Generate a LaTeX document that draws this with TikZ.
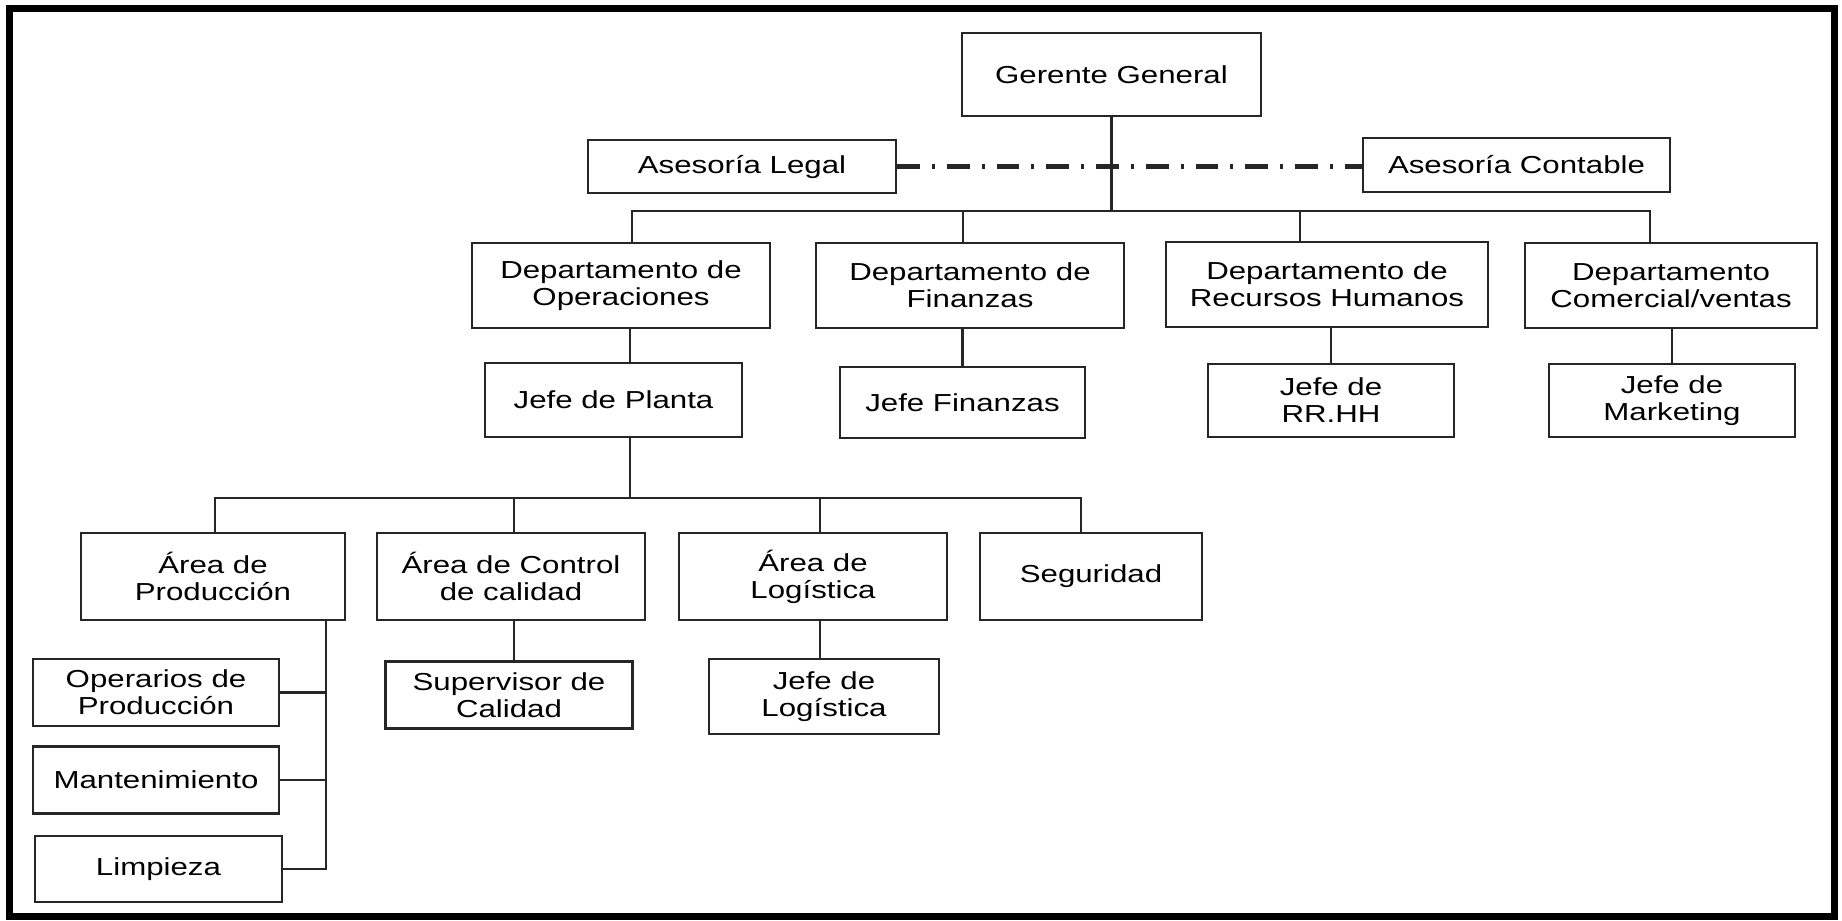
\documentclass[tikz,border=0pt]{standalone}
\usepackage{fontspec}
\setmainfont{Liberation Sans}[FakeStretch=1.27]
\usetikzlibrary{positioning}

\begin{document}
\begin{tikzpicture}[x=0.02cm, y=-0.02cm, line width=1.4pt, draw=black!85,
  cargo/.style={draw, align=center, inner sep=0pt, font=\fontsize{14pt}{15.3pt}\selectfont},
  asesor/.style={line width=2.4pt, dash pattern=on 13pt off 6.8pt on 1.7pt off 6.8pt}]
  \useasboundingbox (0,0) rectangle (1842,920);
  \draw[line width=4pt, draw=black] (9.5,8.5) rectangle (1834,916);

  \node[cargo, minimum width=5.98cm, minimum height=1.66cm] (gerente) at (1111.5,74.5) {Gerente General};
  \node[cargo, minimum width=6.16cm, minimum height=1.06cm] (legal) at (742,166.5) {Asesoría Legal};
  \node[cargo, minimum width=6.14cm, minimum height=1.08cm] (contable) at (1516.5,165) {Asesoría Contable};

  \node[cargo, minimum width=5.96cm, minimum height=1.7cm] (depOp) at (621,285.5) {Departamento de\\Operaciones};
  \node[cargo, minimum width=6.16cm, minimum height=1.7cm] (depFin) at (970,285.5) {Departamento de\\Finanzas};
  \node[cargo, minimum width=6.44cm, minimum height=1.7cm] (depRH) at (1327,284.5) {Departamento de\\Recursos Humanos};
  \node[cargo, minimum width=5.84cm, minimum height=1.7cm] (depCom) at (1671,285.5) {Departamento\\Comercial/ventas};

  \node[cargo, minimum width=5.14cm, minimum height=1.48cm] (jefePlanta) at (613.5,400) {Jefe de Planta};
  \node[cargo, minimum width=4.9cm, minimum height=1.42cm] (jefeFin) at (962.5,402.5) {Jefe Finanzas};
  \node[cargo, minimum width=4.92cm, minimum height=1.46cm] (jefeRH) at (1331,400.5) {Jefe de\\RR.HH};
  \node[cargo, minimum width=4.92cm, minimum height=1.46cm] (jefeMkt) at (1672,400.5) {Jefe de\\Marketing};

  \node[cargo, minimum width=5.28cm, minimum height=1.74cm] (areaProd) at (213,576.5) {Área de\\Producción};
  \node[cargo, minimum width=5.36cm, minimum height=1.74cm] (areaCal) at (511,576.5) {Área de Control\\de calidad};
  \node[cargo, minimum width=5.36cm, minimum height=1.74cm] (areaLog) at (813,576.5) {Área de\\Logística};
  \node[cargo, minimum width=4.44cm, minimum height=1.74cm] (seguridad) at (1091,576.5) {Seguridad};

  \node[cargo, minimum width=4.92cm, minimum height=1.34cm] (operarios) at (156,692.5) {Operarios de\\Producción};
  \node[cargo, minimum width=4.92cm, minimum height=1.34cm, below=0.36cm of operarios] (manten) {Mantenimiento};
  \node[cargo, minimum width=4.94cm, minimum height=1.32cm, below=0.4cm of manten, xshift=0.05cm] (limpieza) {Limpieza};
  \node[cargo, minimum width=4.94cm, minimum height=1.34cm, below=0.78cm of areaCal, xshift=-0.04cm] (supervisor) {Supervisor de\\Calidad};
  \node[cargo, minimum width=4.6cm, minimum height=1.5cm] (jefeLog) at (824,696.5) {Jefe de\\Logística};

  \draw[asesor] (legal.east) -- (legal.east -| contable.west);

  \coordinate (ramaIzq) at (632,211);
  \coordinate (ramaDer) at (1650,211);
  \draw (gerente) -- (gerente |- ramaIzq);
  \draw (ramaIzq |- depOp.north) -- (ramaIzq) -- (ramaDer) -- (ramaDer |- depCom.north);
  \draw (963,211) -- (963,0 |- depFin.north);
  \draw (1300,211) -- (1300,0 |- depRH.north);

  \draw (630,0 |- depOp.south) -- (630,0 |- jefePlanta.north);
  \draw (depFin.south -| jefeFin) -- (jefeFin);
  \draw (depRH.south -| jefeRH) -- (jefeRH);
  \draw (depCom.south -| jefeMkt) -- (jefeMkt);

  \coordinate (ramaAreas) at (630,498);
  \draw (630,0 |- jefePlanta.south) -- (ramaAreas);
  \draw (215,0 |- areaProd.north) -- (215,498) -- (1081,498) -- (1081,0 |- seguridad.north);
  \draw (514,498) -- (514,0 |- areaCal.north);
  \draw (820,498) -- (820,0 |- areaLog.north);

  \draw (514,0 |- areaCal.south) -- (514,0 |- supervisor.north);
  \draw (820,0 |- areaLog.south) -- (820,0 |- jefeLog.north);
  \draw (326,0 |- areaProd.south) -- (326,0 |- limpieza) -- (limpieza.east);
  \draw (operarios.east) -- (326,0 |- operarios);
  \draw (manten.east) -- (326,0 |- manten);
\end{tikzpicture}
\end{document}
